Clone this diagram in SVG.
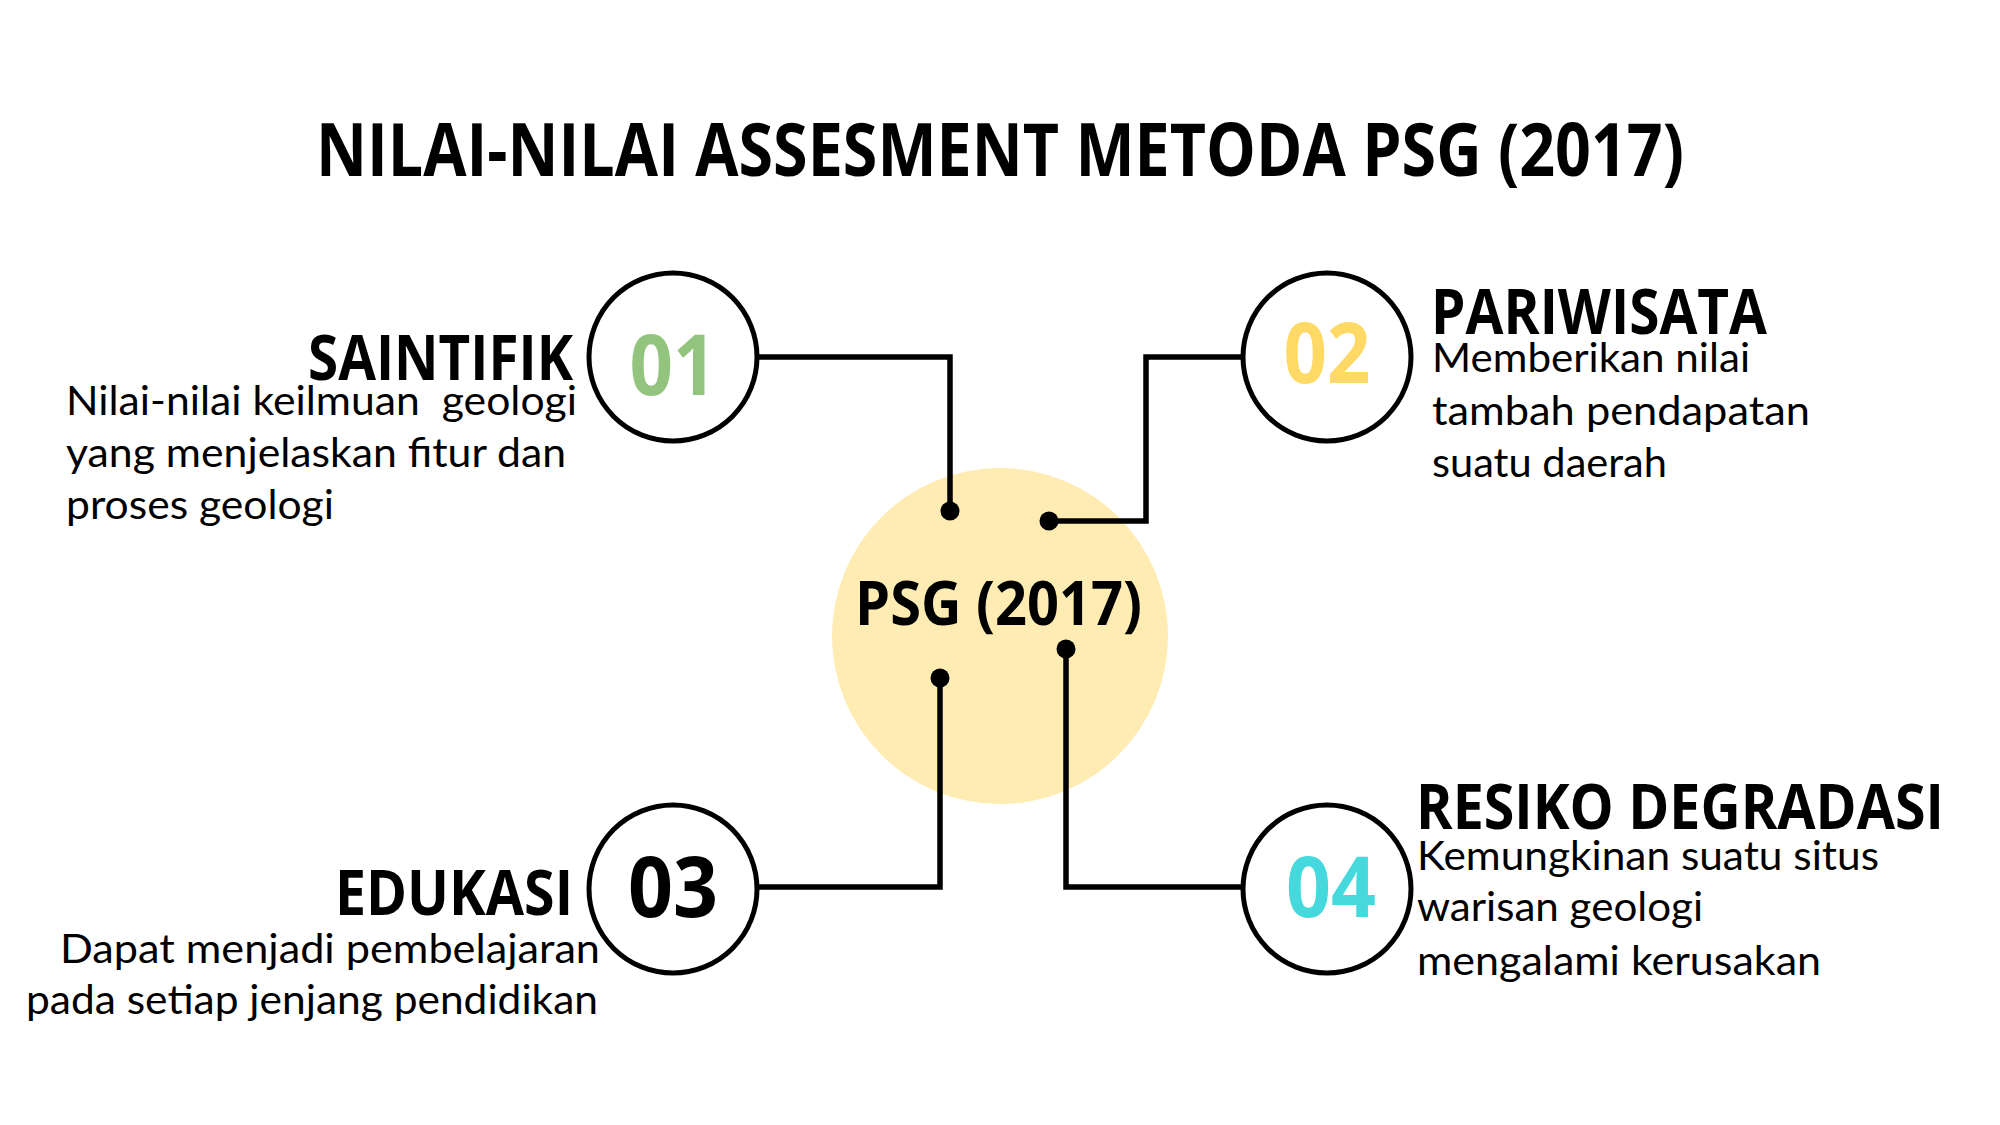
<svg xmlns="http://www.w3.org/2000/svg" width="2000" height="1125" viewBox="0 0 2000 1125">
<style>
.title{font-family:"Open Sans","Liberation Sans",sans-serif;font-weight:700;font-size:73px;fill:#000}
.head{font-family:"Open Sans","Liberation Sans",sans-serif;font-weight:700;font-size:62px;fill:#000}
.num{font-family:"Open Sans","Liberation Sans",sans-serif;font-weight:700;font-size:84px;text-anchor:middle}
.body{font-family:Lato,"Liberation Sans",sans-serif;font-size:40px;fill:#000;white-space:pre}
.ring{fill:#fff;stroke:#000;stroke-width:5}
.wire{fill:none;stroke:#000;stroke-width:5.5}
.dot{fill:#000}
</style>
<rect width="2000" height="1125" fill="#fff"/>
<text class="title" x="316" y="176" textLength="1368" lengthAdjust="spacingAndGlyphs">NILAI-NILAI ASSESMENT METODA PSG (2017)</text>
<g id="center">
<circle cx="1000" cy="636" r="168" fill="#FFECB3"/>
<text x="855" y="625" font-family="'Open Sans','Liberation Sans',sans-serif" font-weight="700" font-size="60" textLength="287" lengthAdjust="spacingAndGlyphs">PSG (2017)</text>
</g>
<g id="connectors">
<polyline class="wire" points="757,357 950,357 950,511"/>
<circle class="dot" cx="950" cy="511" r="9.5"/>
<polyline class="wire" points="1243,357 1146,357 1146,521 1049,521"/>
<circle class="dot" cx="1049" cy="521" r="9.5"/>
<polyline class="wire" points="757,887 940,887 940,678"/>
<circle class="dot" cx="940" cy="678" r="9.5"/>
<polyline class="wire" points="1243,887 1066,887 1066,649"/>
<circle class="dot" cx="1066" cy="649" r="9.5"/>
</g>
<g id="node-01">
<circle class="ring" cx="673" cy="357" r="84"/>
<text class="num" x="673" y="395" fill="#93C47D" textLength="87" lengthAdjust="spacingAndGlyphs">01</text>
<text class="head" x="308" y="380" textLength="265" lengthAdjust="spacingAndGlyphs">SAINTIFIK</text>
<text class="body" x="66" y="415" textLength="511" lengthAdjust="spacingAndGlyphs" xml:space="preserve">Nilai-nilai keilmuan  geologi</text>
<text class="body" x="66" y="467" textLength="500" lengthAdjust="spacingAndGlyphs">yang menjelaskan fitur dan</text>
<text class="body" x="66" y="519" textLength="268" lengthAdjust="spacingAndGlyphs">proses geologi</text>
</g>
<g id="node-02">
<circle class="ring" cx="1327" cy="357" r="84"/>
<text class="num" x="1327" y="383" fill="#FFD966" textLength="87" lengthAdjust="spacingAndGlyphs">02</text>
<text class="head" x="1431" y="334" textLength="336" lengthAdjust="spacingAndGlyphs">PARIWISATA</text>
<text class="body" x="1432" y="372" textLength="318" lengthAdjust="spacingAndGlyphs">Memberikan nilai</text>
<text class="body" x="1432" y="425" textLength="378" lengthAdjust="spacingAndGlyphs">tambah pendapatan</text>
<text class="body" x="1432" y="477" textLength="235" lengthAdjust="spacingAndGlyphs">suatu daerah</text>
</g>
<g id="node-03">
<circle class="ring" cx="673" cy="889" r="84"/>
<text class="num" x="673" y="917" fill="#000" textLength="90" lengthAdjust="spacingAndGlyphs">03</text>
<text class="head" x="335" y="915" textLength="238" lengthAdjust="spacingAndGlyphs">EDUKASI</text>
<text class="body" x="60" y="963" textLength="540" lengthAdjust="spacingAndGlyphs">Dapat menjadi pembelajaran</text>
<text class="body" x="26" y="1014" textLength="572" lengthAdjust="spacingAndGlyphs">pada setiap jenjang pendidikan</text>
</g>
<g id="node-04">
<circle class="ring" cx="1327" cy="889" r="84"/>
<text class="num" x="1331" y="917" fill="#45D9DD" textLength="90" lengthAdjust="spacingAndGlyphs">04</text>
<text class="head" x="1416" y="829" textLength="528" lengthAdjust="spacingAndGlyphs">RESIKO DEGRADASI</text>
<text class="body" x="1417" y="870" textLength="462" lengthAdjust="spacingAndGlyphs">Kemungkinan suatu situs</text>
<text class="body" x="1417" y="921" textLength="286" lengthAdjust="spacingAndGlyphs">warisan geologi</text>
<text class="body" x="1417" y="975" textLength="404" lengthAdjust="spacingAndGlyphs">mengalami kerusakan</text>
</g>
</svg>
